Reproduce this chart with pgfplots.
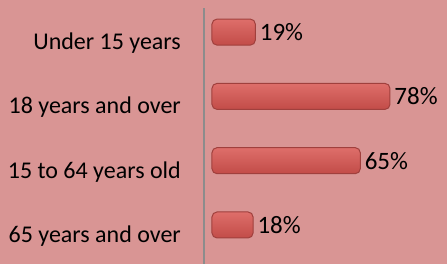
\documentclass[border=0pt]{standalone}
\usepackage{pgfplots}
\pgfplotsset{compat=1.18}
\usepackage{fontspec}
\setmainfont{Carlito}
\definecolor{bg}{HTML}{D99594}
\definecolor{barfill}{HTML}{D65A56}
\definecolor{bartop}{HTML}{DE6E6A}
\definecolor{barbot}{HTML}{C24C48}
\definecolor{baredge}{HTML}{A0403D}
\definecolor{axisgray}{HTML}{8C8C8C}
\begin{document}
\begin{tikzpicture}
\useasboundingbox (0,0) rectangle (447bp,264bp);
\fill[bg] (0,0) rectangle (447bp,264bp);
\begin{axis}[
 at={(204bp,0bp)}, anchor=south west,
 scale only axis, width=243bp, height=256bp,
 xmin=-3.5, xmax=103,
 ymin=-0.607, ymax=3.375,
 axis x line=none, axis y line=left,
 y axis line style={axisgray, line width=2bp, -},
 ytick={0,1,2,3},
 yticklabels={65 years and over, 15 to 64 years old, 18 years and over, Under 15 years},
 major tick length=0pt,
 yticklabel style={font=\fontsize{24bp}{28bp}\selectfont, text=black, inner sep=0pt, xshift=-23bp, yshift=-11bp},
 xbar, bar width=26bp, bar shift=0pt,
 nodes near coords={\pgfmathprintnumber[assume math mode=true]{\pgfplotspointmeta}\%},
 every node near coord/.append style={font=\fontsize{25bp}{30bp}\selectfont, inner sep=4bp, text=black},
 clip=false,
 barstyle/.style={top color=bartop, middle color=barfill, bottom color=barbot, draw=baredge, line width=1bp, rounded corners=5bp},
]
\addplot[barstyle] coordinates {(18,0)};
\addplot[barstyle] coordinates {(65,1)};
\addplot[barstyle] coordinates {(78,2)};
\addplot[barstyle] coordinates {(19,3)};
\end{axis}
\end{tikzpicture}
\end{document}
